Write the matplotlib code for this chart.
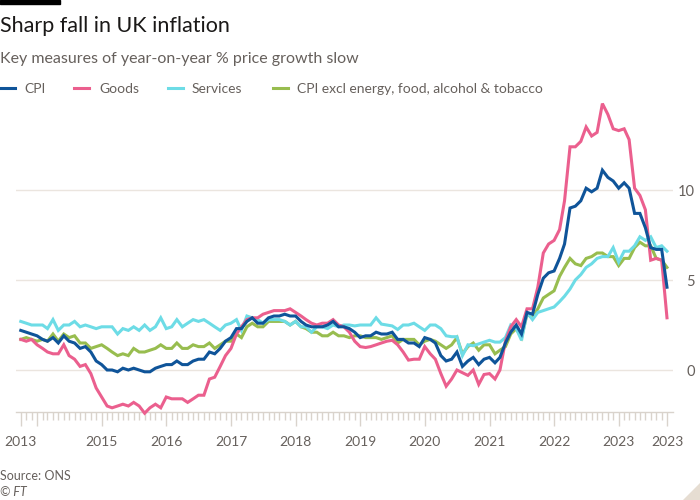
import matplotlib.pyplot as plt
from matplotlib.lines import Line2D
from matplotlib.patches import Polygon, Rectangle
import pandas as pd

plt.rcParams['font.family'] = ['Lato', 'DejaVu Sans']

months = pd.date_range('2013-10-01', '2023-10-01', freq='MS')

# year-on-year % change, Oct 2013 - Oct 2023
cpi = [2.2, 2.1, 2.0,
       1.9, 1.7, 1.6, 1.8, 1.5, 1.9, 1.6, 1.5, 1.2, 1.3, 1.0, 0.5,
       0.3, 0.0, 0.0, -0.1, 0.1, 0.0, 0.1, 0.0, -0.1, -0.1, 0.1, 0.2,
       0.3, 0.3, 0.5, 0.3, 0.3, 0.5, 0.6, 0.6, 1.0, 0.9, 1.2, 1.6,
       1.8, 2.3, 2.3, 2.7, 2.9, 2.6, 2.6, 2.9, 3.0, 3.0, 3.1, 3.0,
       3.0, 2.7, 2.5, 2.4, 2.4, 2.4, 2.5, 2.7, 2.4, 2.4, 2.3, 2.1,
       1.8, 1.9, 1.9, 2.1, 2.0, 2.0, 2.1, 1.7, 1.7, 1.5, 1.5, 1.3,
       1.8, 1.7, 1.5, 0.8, 0.5, 0.6, 1.0, 0.2, 0.5, 0.7, 0.3, 0.6,
       0.7, 0.4, 0.7, 1.5, 2.1, 2.5, 2.0, 3.2, 3.1, 4.2, 5.1, 5.4,
       5.5, 6.2, 7.0, 9.0, 9.1, 9.4, 10.1, 9.9, 10.1, 11.1, 10.7, 10.5,
       10.1, 10.4, 10.1, 8.7, 8.7, 7.9, 6.8, 6.7, 6.7, 4.6]

goods = [1.7, 1.6, 1.7,
         1.4, 1.2, 1.0, 0.9, 0.9, 1.4, 0.8, 0.6, 0.2, 0.3, -0.2, -1.0,
         -1.5, -2.0, -2.1, -2.0, -1.9, -2.0, -1.8, -2.0, -2.4, -2.1, -1.9, -2.1,
         -1.5, -1.6, -1.6, -1.6, -1.8, -1.6, -1.4, -1.4, -0.5, -0.4, 0.2, 0.8,
         1.2, 2.0, 2.4, 2.8, 2.9, 2.9, 3.1, 3.2, 3.3, 3.3, 3.3, 3.4,
         3.2, 3.0, 2.8, 2.6, 2.5, 2.6, 2.6, 2.8, 2.5, 2.4, 2.1, 1.6,
         1.3, 1.25, 1.3, 1.4, 1.5, 1.6, 1.65, 1.4, 1.0, 0.55, 0.6, 0.6,
         1.3, 0.9, 0.6, -0.2, -0.9, -0.5, 0.0, -0.15, -0.3, 0.0, -0.8, -0.25,
         -0.2, -0.5, 0.0, 1.6, 2.4, 2.8, 2.4, 3.4, 3.4, 4.6, 6.5, 7.0,
         7.2, 7.8, 9.4, 12.4, 12.4, 12.7, 13.5, 13.0, 13.2, 14.8, 14.2, 13.4,
         13.3, 13.4, 12.8, 10.1, 9.7, 8.9, 6.1, 6.2, 6.1, 2.9]

services = [2.7, 2.6, 2.5,
            2.5, 2.5, 2.3, 2.8, 2.2, 2.5, 2.5, 2.7, 2.4, 2.5, 2.4, 2.3,
            2.4, 2.4, 2.4, 2.0, 2.3, 2.2, 2.4, 2.2, 2.5, 2.2, 2.4, 2.9,
            2.3, 2.4, 2.8, 2.4, 2.6, 2.8, 2.7, 2.8, 2.6, 2.4, 2.2, 2.5,
            2.6, 2.8, 2.2, 3.0, 2.9, 2.8, 2.6, 2.8, 2.8, 2.8, 2.7, 2.5,
            2.7, 2.4, 2.4, 2.1, 2.4, 2.4, 2.3, 2.5, 2.4, 2.5, 2.5, 2.45,
            2.5, 2.5, 2.5, 2.9, 2.55, 2.5, 2.45, 2.25, 2.5, 2.5, 2.6, 2.4,
            2.2, 2.5, 2.5, 2.3, 1.9, 1.85, 1.85, 0.8, 1.4, 1.35, 1.45, 1.55,
            1.65, 1.55, 1.55, 1.8, 2.5, 2.3, 1.65, 3.2, 2.8, 3.2, 3.3, 3.4,
            3.5, 3.8, 4.1, 4.5, 5.0, 5.3, 5.7, 5.9, 6.2, 6.3, 6.3, 6.8,
            6.0, 6.6, 6.6, 6.9, 7.4, 7.2, 7.4, 6.8, 6.9, 6.6]

core = [1.7, 1.8, 1.7,
        1.6, 1.7, 1.6, 2.0, 1.6, 2.0, 1.8, 1.9, 1.5, 1.5, 1.2, 1.3,
        1.4, 1.2, 1.0, 0.8, 0.9, 0.8, 1.2, 1.0, 1.0, 1.1, 1.2, 1.4,
        1.2, 1.2, 1.5, 1.2, 1.2, 1.4, 1.3, 1.3, 1.5, 1.2, 1.4, 1.6,
        1.6, 2.0, 1.8, 2.4, 2.6, 2.4, 2.4, 2.7, 2.7, 2.7, 2.7, 2.5,
        2.7, 2.4, 2.3, 2.1, 2.1, 1.9, 1.9, 2.1, 1.9, 1.9, 1.8, 1.9,
        1.9, 1.8, 1.8, 1.8, 1.7, 1.8, 1.9, 1.5, 1.7, 1.7, 1.7, 1.4,
        1.6, 1.7, 1.6, 1.4, 1.2, 1.4, 1.8, 0.9, 1.3, 1.5, 1.1, 1.4,
        1.4, 0.9, 1.1, 1.3, 2.0, 2.3, 1.8, 3.1, 2.9, 3.4, 4.0, 4.2,
        4.4, 5.2, 5.7, 6.2, 5.9, 5.8, 6.2, 6.3, 6.5, 6.5, 6.3, 6.3,
        5.8, 6.2, 6.2, 6.8, 7.1, 6.9, 6.9, 6.2, 6.1, 5.7]

names = ['CPI', 'Goods', 'Services', 'CPI excl energy, food, alcohol & tobacco']
colors = ['#0f5499', '#eb5f8e', '#6ddce6', '#98bd4f']
values = [cpi, goods, services, core]
zorders = [5, 4, 3, 2]

year_ticks = [months[0]] + [pd.Timestamp(f'{y}-01-01') for y in range(2014, 2024)] + [months[-1]]
year_labels = ['2013', ''] + [str(y) for y in range(2015, 2024)] + ['2023']

grey = '#66605c'
tickc = '#d9d3cc'

fig = plt.figure(figsize=(7, 5), dpi=100)
ax = fig.add_axes([16 / 700, 1 - 412 / 500, 657 / 700, 312 / 500])

for name, vals, c, z in zip(names, values, colors, zorders):
    ax.plot(months, vals, color=c, lw=2.2, zorder=z, clip_on=False,
            solid_joinstyle='miter')

ax.set_xlim(months[0] - pd.Timedelta(days=27), months[-1] + pd.Timedelta(days=34))
ax.set_ylim(-2.333, 15.0)

ax.set_xticks(year_ticks)
ax.set_xticklabels(year_labels)
ax.set_xticks(months, minor=True)
ax.tick_params(axis='x', which='major', length=10, width=1, color=tickc,
               pad=7, labelsize=10, labelcolor=grey)
ax.tick_params(axis='x', which='minor', length=6, width=1, color=tickc)

ax.yaxis.tick_right()
ax.set_yticks([0, 5, 10])
ax.tick_params(axis='y', length=0, pad=16, labelsize=10.5, labelcolor=grey)
for lab in ax.get_yticklabels():
    lab.set_horizontalalignment('right')
ax.grid(axis='y', color='#ebe5df', lw=1)
ax.set_axisbelow(True)

for s in ['top', 'left', 'right']:
    ax.spines[s].set_visible(False)
ax.spines['bottom'].set_color(tickc)
ax.spines['bottom'].set_linewidth(1)

# header
fig.add_artist(Rectangle((0, 1 - 4 / 500), 60 / 700, 4 / 500, color='black',
                         transform=fig.transFigure))
fig.text(0.0, 1 - 32 / 500, 'Sharp fall in UK inflation', fontsize=15.5,
         color='#1a1817', va='baseline')
fig.text(0.0, 1 - 62.5 / 500, 'Key measures of year-on-year % price growth slow',
         fontsize=11.5, color=grey, va='baseline')

# legend
leg_x = [(0, 24), (74, 99), (168, 192), (273, 297)]
for (lx, tx), name, c in zip(leg_x, names, colors):
    fig.add_artist(Line2D([lx / 700, (lx + 15) / 700], [1 - 88 / 500] * 2,
                          color=c, lw=2.2, transform=fig.transFigure))
    fig.text(tx / 700, 1 - 93 / 500, name, fontsize=10, color=grey, va='baseline')

fig.text(0.0, 1 - 480 / 500, 'Source: ONS', fontsize=9, color=grey, va='baseline')
fig.text(0.0, 1 - 496 / 500, '© FT', fontsize=9, color=grey, va='baseline',
         style='italic')

fig.add_artist(Polygon([(683 / 700, 0), (1, 0), (1, 17 / 500)], closed=True,
                       color='#e6ddd2', transform=fig.transFigure))

fig.savefig('out.png', dpi=100, facecolor='white')
